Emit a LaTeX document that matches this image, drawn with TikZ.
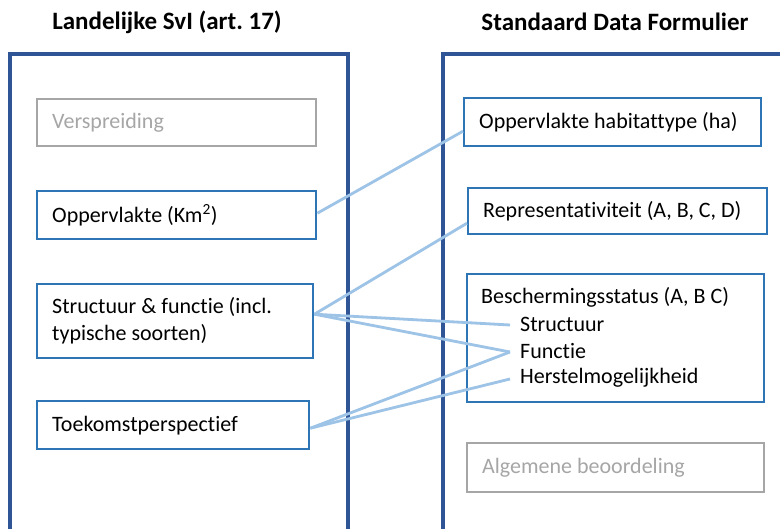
\documentclass[tikz,border=0pt]{standalone}
\usepackage{fontspec}
\setmainfont{Carlito}[RawFeature=-liga]
\definecolor{panelblue}{HTML}{2F5597}
\definecolor{boxblue}{HTML}{2E75B6}
\definecolor{linkblue}{HTML}{9DC3E6}
\definecolor{greyish}{HTML}{A6A6A6}
\begin{document}
\frenchspacing
\begin{tikzpicture}[x=1pt,y=-1pt,
  panel/.style={draw=panelblue,line width=3.2pt},
  box/.style={draw=boxblue,line width=2.4pt,anchor=north west,inner xsep=15pt,inner ysep=0pt,align=flush left,font=\fontsize{22}{27}\selectfont,text=black},
  greybox/.style={box,draw=greyish,text=greyish},
  title/.style={font=\bfseries\fontsize{25}{30}\selectfont},
  item/.style={anchor=west,inner sep=0pt,font=\fontsize{22}{27}\selectfont},
  link/.style={draw=linkblue,line width=2.8pt}]
\useasboundingbox (0,0) rectangle (780,529);
\fill[white] (0,0) rectangle (780,529);
% titles
\node[title] (tl) at (167,22) {Landelijke SvI (art. 17)};
\node[title] (tr) at (615,22) {Standaard Data Formulier};
% panels
\draw[panel] (10,531) -- (10,54) -- (348,54) -- (348,531);
\draw[panel] (443,531) -- (443,54) -- (782,54);
% left boxes
\node[greybox,minimum width=279,minimum height=47,text width=249] (versp) at (36,98) {Verspreiding};
\node[box,minimum width=279,minimum height=48,text width=249] (opp) at (36,190) {Oppervlakte (Km\textsuperscript{2})};
\node[box,minimum width=276,minimum height=74,text width=246] (sf) at (36,283) {Structuur \& functie (incl.\\typische soorten)};
\node[box,minimum width=272,minimum height=48,text width=242] (toek) at (36,400) {Toekomstperspectief};
% right boxes
\node[box,minimum width=297,minimum height=48,text width=267] (hab) at (463,97) {Oppervlakte habitattype (ha)};
\node[box,minimum width=299,minimum height=46,text width=269] (repr) at (467,187) {Representativiteit (A, B, C, D)};
\node[box,minimum width=297,minimum height=128,text width=267] (besch) at (466,273) {};
\node[greybox,minimum width=297,minimum height=49,text width=267] (alg) at (466,442) {Algemene beoordeling};
\node[item] (bs) at (481,297) {Beschermingsstatus (A, B C)};
\node[item] (str) at (520,324) {Structuur};
\node[item] (fun) at (520,351) {Functie};
\node[item] (her) at (520,378) {Herstelmogelijkheid};
% links
\draw[link] ([yshift=2pt]opp.east) -- ([yshift=-9pt]hab.west);
\draw[link] ([yshift=7pt]sf.east) -- ([yshift=-12pt]repr.west);
\draw[link] ([yshift=7pt]sf.east) -- ([xshift=-10pt,yshift=-1pt]str.west);
\draw[link] ([yshift=7pt]sf.east) -- ([xshift=-10pt,yshift=-1pt]fun.west);
\draw[link] ([yshift=-3pt]toek.east) -- ([xshift=-10pt,yshift=-1pt]fun.west);
\draw[link] ([yshift=-3pt]toek.east) -- ([xshift=-10pt,yshift=-1pt]her.west);
\end{tikzpicture}
\end{document}
